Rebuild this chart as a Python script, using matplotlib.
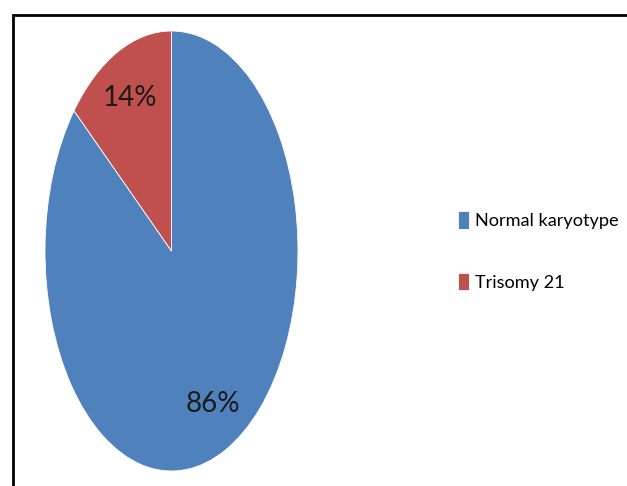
import matplotlib
matplotlib.use("Agg")
import matplotlib.pyplot as plt
from matplotlib.patches import Rectangle

labels = ["Normal karyotype", "Trisomy 21"]
shares = [86, 14]
colors = ["#4F81BD", "#C0504D"]

plt.rcParams["font.family"] = ["Lato", "DejaVu Sans"]

W, H = 627, 486
fig = plt.figure(figsize=(W/100, H/100), dpi=100)

# outer frame, runs off the right and bottom edges
fig.patches.append(Rectangle((13/W, -0.1), 1.1, (H-15)/H + 0.1, transform=fig.transFigure,
                             fill=False, edgecolor="black", linewidth=2))

ax = fig.add_axes([45/W, 15/H, 253/W, 440/H])
wedges, texts, autotexts = ax.pie(shares, colors=colors, startangle=90, counterclock=False,
                                  autopct="%d%%", pctdistance=0.77,
                                  wedgeprops=dict(edgecolor="white", linewidth=0.6),
                                  textprops=dict(fontsize=20, color="#1a1a1a"))
ax.set_aspect("auto")
ax.set_xlim(-1, 1); ax.set_ylim(-1, 1)

# fit the long legend label into the space right of the pie
r = fig.canvas.get_renderer()
t = fig.text(0, 0, labels[0], fontsize=20)
w = t.get_window_extent(r).width
t.remove()
fs = min(20, 20 * 144 / w)
fpx = fs * 100 / 72

leg = fig.legend(wedges, labels, loc="center left", bbox_to_anchor=(458/W, 1 - 251/H),
                 frameon=False, fontsize=fs, handlelength=11/fpx, handleheight=20/fpx,
                 handletextpad=6/fpx, labelspacing=(65 - 1.2*fpx)/fpx, borderaxespad=0,
                 borderpad=0)

fig.savefig("out.png", dpi=100)
